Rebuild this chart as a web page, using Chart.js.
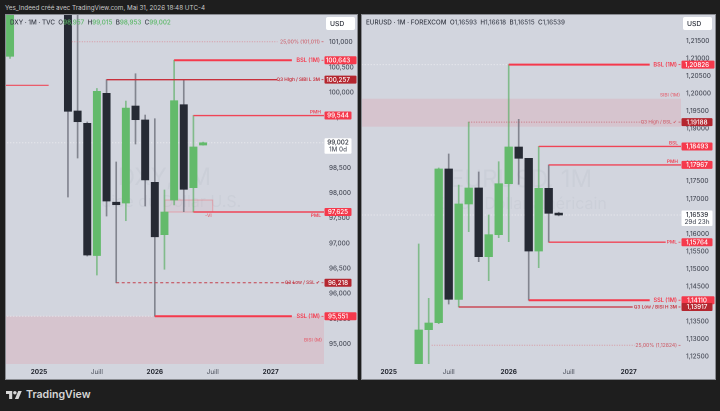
<!DOCTYPE html>
<html lang="fr">
<head>
<meta charset="utf-8">
<title>DXY / EURUSD</title>
<script src="https://cdn.jsdelivr.net/npm/chart.js@4"></script>
<style>
  html, body { margin: 0; padding: 0; width: 720px; height: 411px; background: #1e1e1e; overflow: hidden; }
  body { position: relative; font-family: Inter, "Liberation Sans", sans-serif; }
  #caption { position: absolute; left: 5px; top: 4px; font-size: 6.3px; line-height: 9px; color: #c8c8c8; white-space: nowrap; }
  canvas { position: absolute; top: 14px; background: #d2d5de; }
  #dxy { left: 5px; }
  #eur { left: 361px; }
  .frame { position: absolute; top: 14px; height: 364px; border: 1px solid #8a8c92; box-sizing: content-box; pointer-events: none; }
  #brand { position: absolute; left: 6px; top: 387px; display: flex; align-items: center; color: #d6d6d6; font-size: 10.6px; font-weight: 600; line-height: 16px; }
  #brand svg { width: 16px; height: 8px; margin-right: 4px; }
</style>
</head>
<body>
<div id="caption">Yes_Indeed créé avec TradingView.com, Mai 31, 2026 18:48 UTC-4</div>
<canvas id="dxy" width="352" height="365"></canvas>
<canvas id="eur" width="354" height="365"></canvas>
<div class="frame" style="left:5px;width:351px"></div>
<div class="frame" style="left:361px;width:353px"></div>
<div id="brand">
  <svg viewBox="0 4 36 18"><path fill="#d6d6d6" d="M14 22H7V11H0V4h14v18zM28 22h-8l7.5-18h8L28 22z"/><circle fill="#d6d6d6" cx="20" cy="8" r="4"/></svg>
  <span>TradingView</span>
</div>

<script>
// month index: 0 = janvier 2025
const axisMonths = [0, 6, 12, 18, 24];
const axisLabels = ['2025', 'Juill', '2026', 'Juill', '2027'];

// DXY
const dxyTicks = [95000, 95500, 96000, 96500, 97000, 97500, 98000, 98500, 99000, 99500, 100000, 100500, 101000];
const dxyMonths = [-3, 3, 4, 5, 6, 7, 8, 9, 10, 11, 12, 13, 14, 15, 16, 17];
const dxyOpen  = [100722, 102000, 99634, 99389, 96760, 99986, 97820, 97804, 99733, 99455, 98215, 97174, 97863, 99759, 98108, 98957];
const dxyHigh  = [101900, 102200, 102100, 99415, 100081, 100257, 98620, 99832, 100375, 99554, 99480, 98063, 100643, 100264, 99544, 99015];
const dxyLow   = [100680, 97923, 98699, 96750, 96372, 97545, 96218, 97452, 98977, 97744, 95551, 96486, 97766, 97631, 97625, 98953];
const dxyClose = [101800, 99628, 99421, 96770, 100025, 97843, 97770, 99693, 99461, 98262, 97133, 97625, 99838, 98076, 98918, 99002];

const dxyLevelNames  = ['', '25,00% (101,011)', 'BSL (1M)', 'Q3 High / SIBI L 3M', 'PMH', 'PML', 'Q3 Low / SSL ✔', 'SSL (1M)'];
const dxyLevelValues = [100145, 101011, 100643, 100257, 99544, 97625, 96218, 95551];
const dxyLevelStart  = [-3.6, 3.4, 14, 7, 16, 16, 8, 12];
const dxyLevelEnd    = [1, 24.7, 26.2, 24.7, 30, 30, 26.5, 26.2];

const dxyGuideValues = [99002, 95551];
const dxyGuideStart  = [-3.6, -3.6];
const dxyGuideEnd    = [30, 12];

const dxyZoneNames  = ['BISI (M)', '-VI'];
const dxyZoneTop    = [95551, 97863];
const dxyZoneBottom = [94500, 97625];
const dxyZoneStart  = [-3.6, 13.05];
const dxyZoneEnd    = [30, 18];

// EURUSD
const eurTicks = [1.125, 1.13, 1.135, 1.14, 1.145, 1.15, 1.155, 1.16, 1.165, 1.17, 1.175, 1.18, 1.185, 1.19, 1.195, 1.2, 1.205, 1.21, 1.215];
const eurMonths = [3, 4, 5, 6, 7, 8, 9, 10, 11, 12, 13, 14, 15, 16, 17];
const eurOpen  = [1.1220, 1.13270, 1.13469, 1.17851, 1.14131, 1.16853, 1.17309, 1.15351, 1.15978, 1.17432, 1.18478, 1.18156, 1.15513, 1.17300, 1.16593];
const eurHigh  = [1.15713, 1.14165, 1.17880, 1.18278, 1.17394, 1.19188, 1.17765, 1.16540, 1.18059, 1.20826, 1.19268, 1.18156, 1.18493, 1.17967, 1.16618];
const eurLow   = [1.1200, 1.12292, 1.13440, 1.14002, 1.13917, 1.16063, 1.15208, 1.14667, 1.15892, 1.15778, 1.17414, 1.14110, 1.15037, 1.15764, 1.16515];
const eurClose = [1.13261, 1.13460, 1.17851, 1.14136, 1.16853, 1.17309, 1.15351, 1.15978, 1.17432, 1.18478, 1.18156, 1.15513, 1.17300, 1.16588, 1.16539];

const eurLevelNames  = ['BSL (1M)', 'Q3 High / BSL ✔', 'BSL', 'PMH', 'PML', 'SSL (1M)', 'Q3 Low / BISI H 3M', '25,00% (1,12824)'];
const eurLevelValues = [1.20826, 1.19188, 1.18493, 1.17967, 1.15764, 1.14110, 1.13917, 1.12824];
const eurLevelStart  = [12, 8, 15, 16, 16, 14, 7, 4.3];
const eurLevelEnd    = [26.1, 25.3, 30, 30, 27.7, 26.1, 24.4, 24.6];

const eurGuideValues = [1.16539, 1.20826];
const eurGuideStart  = [-3, -3];
const eurGuideEnd    = [30, 12];

const eurZoneNames  = ['SIBI (1M)'];
const eurZoneTop    = [1.19855];
const eurZoneBottom = [1.19057];
const eurZoneStart  = [-3];
const eurZoneEnd    = [30];

const FONT = 'Inter, "Liberation Sans", sans-serif';
const GREEN = '#63ba6b';
const DARK = '#262a34';
const RED = '#f5394c';
const DARK_RED = '#b4262f';

const fmtDxy = v => String(Math.round(v)).replace(/(\d)(\d{3})$/, '$1,$2');
const fmtEur = v => v.toFixed(5).replace('.', ',');

function levelStyle(name) {
  if (name.includes('(1M)')) return { color: RED, width: 2, tag: RED, font: '600 5.6px ' };
  if (name.startsWith('Q3 Low / SSL')) return { color: '#c4404c', width: 1, dash: [3, 2.5], tag: DARK_RED, font: '600 4.7px ' };
  if (name.startsWith('Q3 High / BSL')) return { color: 'rgba(196,64,76,.6)', width: 1, dash: [1, 1.5], tag: DARK_RED, font: '500 4.7px ' };
  if (name.startsWith('Q3')) return { color: '#c9303c', width: 1.3, tag: DARK_RED, font: '600 4.7px ' };
  if (name.includes('%')) return { color: 'rgba(222,110,120,.6)', width: 1, dash: [1, 1.5], font: '500 5px ' };
  if (name === '') return { color: '#ee4a5a', width: 1.2 };
  return { color: '#f04456', width: 1.4, tag: RED, font: '600 4.8px ' };
}

function makeChart(id, p) {
  const levelSets = p.levelNames.map((name, i) => {
    const s = levelStyle(name);
    return {
      type: 'line', order: 0, borderColor: s.color, borderWidth: s.width, borderDash: s.dash || [],
      pointRadius: 0, tension: 0,
      data: [{ x: p.levelStart[i], y: p.levelValues[i] }, { x: p.levelEnd[i], y: p.levelValues[i] }]
    };
  });
  const guideSets = p.guideValues.map((v, i) => ({
    type: 'line', order: 4, borderColor: 'rgba(255,255,255,.55)', borderWidth: 1, borderDash: [1, 2],
    pointRadius: 0,
    data: [{ x: p.guideStart[i], y: v }, { x: p.guideEnd[i], y: v }]
  }));
  const up = p.months.map((m, i) => p.close[i] >= p.open[i]);

  const overlay = {
    id: 'overlay',
    beforeDatasetsDraw(chart) {
      const { ctx, chartArea: a, scales: { x, y } } = chart;
      ctx.save();
      ctx.beginPath();
      ctx.rect(a.left, a.top, a.width, a.height);
      ctx.clip();
      // watermark
      ctx.textAlign = 'center';
      ctx.textBaseline = 'middle';
      ctx.fillStyle = 'rgba(120,124,140,.07)';
      const cx = (a.left + a.right) / 2;
      ctx.font = '400 24px ' + FONT;
      ctx.fillText(p.mark[0], cx, p.markTop);
      ctx.font = '400 16px ' + FONT;
      ctx.fillText(p.mark[1], cx, p.markTop + 24);
      // zones
      p.zoneNames.forEach((name, i) => {
        const l = x.getPixelForValue(p.zoneStart[i]), r = x.getPixelForValue(p.zoneEnd[i]);
        const t = y.getPixelForValue(p.zoneTop[i]), b = y.getPixelForValue(p.zoneBottom[i]);
        ctx.fillStyle = name === '-VI' ? 'rgba(242,54,69,.05)' : 'rgba(242,54,69,.11)';
        ctx.fillRect(l, t, r - l, b - t);
        if (name === '-VI') {
          ctx.strokeStyle = 'rgba(242,90,100,.4)';
          ctx.lineWidth = 1;
          ctx.strokeRect(l, t, r - l, b - t);
        }
      });
      ctx.restore();
    },
    afterDraw(chart) {
      const { ctx, chartArea: a, scales: { x, y }, width } = chart;
      ctx.save();
      ctx.textBaseline = 'middle';
      // zone labels
      p.zoneNames.forEach((name, i) => {
        const t = y.getPixelForValue(p.zoneTop[i]), b = y.getPixelForValue(p.zoneBottom[i]);
        const r = x.getPixelForValue(p.zoneEnd[i]);
        ctx.font = '500 4.8px ' + FONT;
        ctx.fillStyle = 'rgba(230,80,95,.85)';
        ctx.textAlign = 'right';
        if (name === '-VI') ctx.fillText(name, r - 1, b + 3.5);
        else if (name.startsWith('SIBI')) ctx.fillText(name, a.right - 1, t - 3.5);
        else ctx.fillText(name, a.right - 2, (t + Math.min(b, a.bottom)) / 2);
      });
      // level labels and price tags
      p.levelNames.forEach((name, i) => {
        const s = levelStyle(name);
        const py = y.getPixelForValue(p.levelValues[i]);
        if (name) {
          ctx.font = s.font + FONT;
          ctx.fillStyle = s.color.startsWith('rgba') ? 'rgba(205,80,92,.85)' : s.color;
          ctx.textAlign = 'right';
          if (p.levelEnd[i] >= 30) {
            const below = name === 'PML';
            ctx.fillText(name, a.right - 3, py + (below ? 3.6 : -3.6));
          } else {
            ctx.fillText(name, a.right - 4, py);
            ctx.fillRect(a.right - 2.5, py - 0.4, 2, 0.8);
          }
        }
        if (s.tag) {
          const w = (name.includes('(1M)') || name === 'Q3 High / SIBI L 3M') ? width - a.right - 1 : p.tagWidth;
          ctx.fillStyle = s.tag;
          ctx.beginPath();
          ctx.roundRect(a.right + 0.5, py - 4, w, 8, 1);
          ctx.fill();
          ctx.font = '500 6.3px ' + FONT;
          ctx.fillStyle = '#fff';
          ctx.textAlign = 'center';
          ctx.fillText(p.fmt(p.levelValues[i]), a.right + 0.5 + p.tagWidth / 2, py + 0.3);
        }
      });
      // last price box
      const ly = y.getPixelForValue(p.last);
      ctx.fillStyle = '#fff';
      ctx.beginPath();
      ctx.roundRect(a.right + 0.5, ly - 4.5, p.tagWidth, 15.5, 1);
      ctx.fill();
      ctx.fillStyle = '#2a2e39';
      ctx.font = '500 6.3px ' + FONT;
      ctx.textAlign = 'center';
      ctx.fillText(p.fmt(p.last), a.right + 0.5 + p.tagWidth / 2, ly);
      ctx.fillStyle = '#555a66';
      ctx.fillText(p.countdown, a.right + 0.5 + p.tagWidth / 2, ly + 7);
      // USD button
      ctx.fillStyle = '#fff';
      ctx.beginPath();
      ctx.roundRect(a.right + 2, 3, 29, 13, 2);
      ctx.fill();
      ctx.fillStyle = '#2a2e39';
      ctx.font = '500 6.8px ' + FONT;
      ctx.textAlign = 'left';
      ctx.fillText('USD', a.right + 6, 9.8);
      // legend line
      let tx = 5;
      const tv = 8.5;
      ctx.font = '500 6.3px ' + FONT;
      p.legend.forEach(part => {
        ctx.fillStyle = part[1] ? p.legendColor : '#363a45';
        ctx.fillText(part[0], tx, tv);
        tx += ctx.measureText(part[0]).width;
      });
      ctx.restore();
    }
  };

  return new Chart(document.getElementById(id), {
    data: {
      datasets: [
        ...levelSets,
        {
          type: 'bar', order: 1, grouped: false, barThickness: p.bodyWidth,
          data: p.months.map((m, i) => ({ x: m, y: [p.open[i], p.close[i]] })),
          backgroundColor: up.map(u => u ? GREEN : DARK), borderWidth: 0
        },
        {
          type: 'bar', order: 2, grouped: false, barThickness: 1,
          data: p.months.map((m, i) => ({ x: m, y: [p.low[i], p.high[i]] })),
          backgroundColor: up.map(u => u ? 'rgba(94,176,104,.7)' : 'rgba(110,113,124,.8)'), borderWidth: 0
        },
        ...guideSets
      ]
    },
    options: {
      responsive: false,
      animation: false,
      events: [],
      devicePixelRatio: 2,
      layout: { padding: 0, autoPadding: false },
      plugins: { legend: { display: false }, tooltip: { enabled: false } },
      scales: {
        x: {
          type: 'linear', min: p.xMin, max: p.xMax, offset: false, bounds: 'data',
          grid: { display: false, drawTicks: false }, border: { display: false },
          afterFit(s) { s.height = 15; s.paddingLeft = 0; s.paddingRight = 0; },
          afterBuildTicks(s) { s.ticks = axisMonths.map(value => ({ value })); },
          ticks: {
            autoSkip: false, maxRotation: 0, padding: 4,
            color: c => (c.tick && c.tick.value % 12 === 0) ? '#1f222b' : '#4a4e5a',
            font: c => ({ family: FONT, size: 6.4, weight: (c.tick && c.tick.value % 12 === 0) ? '700' : '400' }),
            callback: v => axisLabels[axisMonths.indexOf(v)]
          }
        },
        y: {
          position: 'right', min: p.yMin, max: p.yMax, bounds: 'data',
          grid: { display: false, drawTicks: false }, border: { display: false },
          afterFit(s) { s.width = p.axisWidth; s.paddingTop = 0; s.paddingBottom = 0; },
          afterBuildTicks(s) { s.ticks = p.ticks.map(value => ({ value })); },
          ticks: {
            autoSkip: false, padding: p.tickPad,
            color: '#4a4e5a', font: { family: FONT, size: 6.4, weight: '500' },
            callback: v => p.fmt(v)
          }
        }
      }
    },
    plugins: [overlay]
  });
}

makeChart('dxy', {
  ticks: dxyTicks, months: dxyMonths, open: dxyOpen, high: dxyHigh, low: dxyLow, close: dxyClose,
  levelNames: dxyLevelNames, levelValues: dxyLevelValues, levelStart: dxyLevelStart, levelEnd: dxyLevelEnd,
  guideValues: dxyGuideValues, guideStart: dxyGuideStart, guideEnd: dxyGuideEnd,
  zoneNames: dxyZoneNames, zoneTop: dxyZoneTop, zoneBottom: dxyZoneBottom, zoneStart: dxyZoneStart, zoneEnd: dxyZoneEnd,
  xMin: -3.523, xMax: 29.53, yMin: 94602, yMax: 101563, axisWidth: 33, tickPad: 5, tagWidth: 27, bodyWidth: 7.3,
  fmt: fmtDxy, last: 99002, countdown: '1M 0d',
  mark: ['DXY, 1M', 'Indice du Dollar U.S.'], markTop: 164,
  legend: [['DXY · 1M · TVC  O', 0], ['98,957', 1], ['  H', 0], ['99,015', 1], ['  B', 0], ['98,953', 1], ['  C', 0], ['99,002', 1]],
  legendColor: '#5cb868'
});

makeChart('eur', {
  ticks: eurTicks, months: eurMonths, open: eurOpen, high: eurHigh, low: eurLow, close: eurClose,
  levelNames: eurLevelNames, levelValues: eurLevelValues, levelStart: eurLevelStart, levelEnd: eurLevelEnd,
  guideValues: eurGuideValues, guideStart: eurGuideStart, guideEnd: eurGuideEnd,
  zoneNames: eurZoneNames, zoneTop: eurZoneTop, zoneBottom: eurZoneBottom, zoneStart: eurZoneStart, zoneEnd: eurZoneEnd,
  xMin: -2.77, xMax: 29.23, yMin: 1.12291, yMax: 1.2227, axisWidth: 34, tickPad: 5, tagWidth: 31, bodyWidth: 7.7,
  fmt: fmtEur, last: 1.16539, countdown: '29d 23h',
  mark: ['EURUSD, 1M', 'Euro / Dollar américain'], markTop: 166,
  legend: [['EURUSD · 1M · FOREXCOM  O', 0], ['1,16593', 1], ['  H', 0], ['1,16618', 1], ['  B', 0], ['1,16515', 1], ['  C', 0], ['1,16539', 1]],
  legendColor: '#4a4e5a'
});
</script>
</body>
</html>
